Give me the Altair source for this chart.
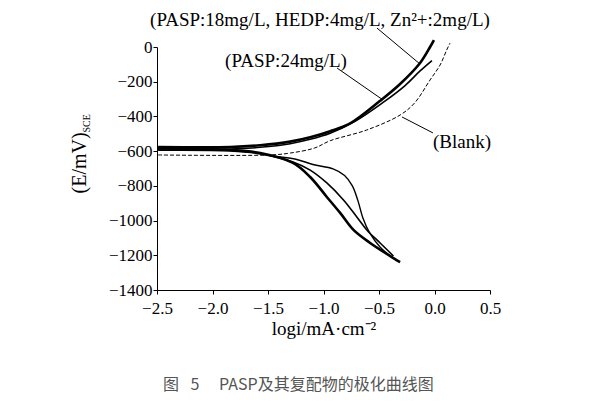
import altair as alt
import pandas as pd

# ---- curve data (log i in mA/cm2, E in mV vs SCE) ----
# compound: PASP 18 mg/L + HEDP 4 mg/L + Zn2+ 2 mg/L
cmp_an_x = [-2.49, -1.84, -1.57, -1.30, -1.12, -0.94, -0.76, -0.49, -0.31, -0.13, -0.04, -0.005]
cmp_an_y = [-576, -576, -566, -545, -520, -485, -440, -310, -213, -92, 0, 40]
cmp_ca_x = [-2.49, -1.84, -1.57, -1.275, -1.12, -0.97, -0.85, -0.73, -0.58, -0.37, -0.31]
cmp_ca_y = [-585, -593, -611, -668, -749, -864, -956, -1054, -1129, -1216, -1239]
# PASP 24 mg/L
p24_an_x = [-2.49, -1.84, -1.57, -1.30, -1.12, -0.94, -0.72, -0.46, -0.265, -0.13, -0.023]
p24_an_y = [-588, -588, -578, -557, -532, -497, -430, -318, -222, -138, -78]
p24_ca_x = [-2.49, -1.84, -1.57, -1.275, -1.12, -0.97, -0.82, -0.70, -0.61, -0.49, -0.37]
p24_ca_y = [-595, -599, -616, -662, -709, -783, -881, -979, -1054, -1129, -1204]
# Blank
blk_an_x = [-2.49, -1.48, -1.30, -1.08, -0.94, -0.61, -0.31, -0.18, -0.04, 0.05, 0.11, 0.14]
blk_an_y = [-622, -622, -611, -582, -540, -478, -392, -323, -190, -104, -17, 23]
blk_ca_x = [-1.48, -1.257, -1.095, -0.914, -0.81, -0.74, -0.69, -0.645, -0.585, -0.491, -0.374]
blk_ca_y = [-628, -645, -677, -702, -740, -800, -885, -985, -1070, -1152, -1216]

# axis ticks
x_ticks = [-2.5, -2.0, -1.5, -1.0, -0.5, 0.0, 0.5]
y_ticks = [-1400, -1200, -1000, -800, -600, -400, -200, 0]

# annotations
ann_text = ["(PASP:18mg/L, HEDP:4mg/L, Zn²+:2mg/L)", "(PASP:24mg/L)", "(Blank)"]
ann_x = [-1.032, -1.338, 0.248]
ann_y = [155, -80, -547]

lead_x = [-0.518, -0.878, -0.293]
lead_y = [109, -121, -403]
lead_x2 = [-0.131, -0.464, -0.014]
lead_y2 = [-98, -305, -495]

ytitle_text = ["(E/mV)", "SCE"]
ytitle_x = [-3.194, -3.13]
ytitle_y = [-668, -440]
ytitle_size = [20, 10]

caption_text = ["图\u2002 5\u2002\u2002 PASP及其复配物的极化曲线图"]
caption_x = [-2.446]
caption_y = [-1946]

FONT = "Liberation Serif"


def branch(name, xs, ys):
    return pd.DataFrame({"x": xs, "y": ys, "branch": name, "i": range(len(xs))})


curves = pd.concat([
    branch("cmp_an", cmp_an_x, cmp_an_y),
    branch("cmp_ca", cmp_ca_x, cmp_ca_y),
    branch("p24_an", p24_an_x, p24_an_y),
    branch("p24_ca", p24_ca_x, p24_ca_y),
    branch("blk_an", blk_an_x, blk_an_y),
    branch("blk_ca", blk_ca_x, blk_ca_y),
], ignore_index=True)

xs = alt.Scale(domain=[-2.5, 0.5], nice=False, zero=False)
ys = alt.Scale(domain=[-1400, 0], nice=False, zero=False)

X_AXIS = alt.Axis(
    values=x_ticks, format=".1f", title="logi/mA·cm⁻²", grid=False,
    labelFont=FONT, labelFontSize=17, labelColor="black", labelPadding=6,
    tickSize=4, tickColor="black", domainColor="black", labelFlush=False,
    titleFont=FONT, titleFontSize=19, titleFontWeight="normal", titleColor="black",
    titlePadding=3, labelOverlap=False)
Y_AXIS = alt.Axis(
    values=y_ticks, format="d", title=None, grid=False,
    labelFont=FONT, labelFontSize=17, labelColor="black", labelPadding=1,
    tickSize=4, tickColor="black", domainColor="black", labelFlush=False,
    labelOverlap=False)
X = alt.X("x:Q", scale=xs, axis=X_AXIS)
Y = alt.Y("y:Q", scale=ys, axis=Y_AXIS)


def line_layer(names, width, dash=None):
    kw = dict(color="black", strokeWidth=width, interpolate="catmull-rom", clip=False)
    if dash:
        kw["strokeDash"] = dash
    return alt.Chart(curves).transform_filter(
        alt.FieldOneOfPredicate(field="branch", oneOf=names)
    ).mark_line(**kw).encode(x=X, y=Y, detail="branch:N", order="i:Q")


l_blk_a = line_layer(["blk_an"], 1.0, [4, 2])
l_blk_c = line_layer(["blk_ca"], 1.4)
l_p24 = line_layer(["p24_an", "p24_ca"], 1.6)
l_cmp = line_layer(["cmp_an", "cmp_ca"], 2.6)

ann = pd.DataFrame({"t": ann_text, "x": ann_x, "y": ann_y})
t_ann = alt.Chart(ann).mark_text(font=FONT, fontSize=19, color="black").encode(
    x=X, y=Y, text="t:N")

lead = pd.DataFrame({"x": lead_x, "y": lead_y, "x2": lead_x2, "y2": lead_y2})
r_lead = alt.Chart(lead).mark_rule(color="black", strokeWidth=1).encode(
    x=X, y=Y, x2="x2:Q", y2="y2:Q")

yt = pd.DataFrame({"t": ytitle_text, "x": ytitle_x, "y": ytitle_y, "s": ytitle_size})
t_yt = alt.Chart(yt).mark_text(font=FONT, angle=270, color="black").encode(
    x=X, y=Y, text="t:N", size=alt.Size("s:Q", scale=None))

cap = pd.DataFrame({"t": caption_text, "x": caption_x, "y": caption_y})
t_cap = alt.Chart(cap).mark_text(font="Noto Sans CJK SC", fontSize=16, color="#555",
                                 align="left").encode(
    x=X, y=Y, text="t:N")

chart = alt.layer(l_blk_a, l_blk_c, l_p24, l_cmp, r_lead, t_ann, t_yt, t_cap).properties(
    width=333, height=243,
    autosize=alt.AutoSizeParams(type="none"),
    padding={"left": 149, "top": 39, "right": 91, "bottom": 111},
    background="white",
).configure_view(stroke=None).configure_axis(
    labelFont=FONT, titleFont=FONT, labelFontSize=17, titleFontSize=19,
    labelColor="black", titleColor="black", titleFontWeight="normal",
)

chart.save("out.html", embed_options={"renderer": "svg", "actions": False})
